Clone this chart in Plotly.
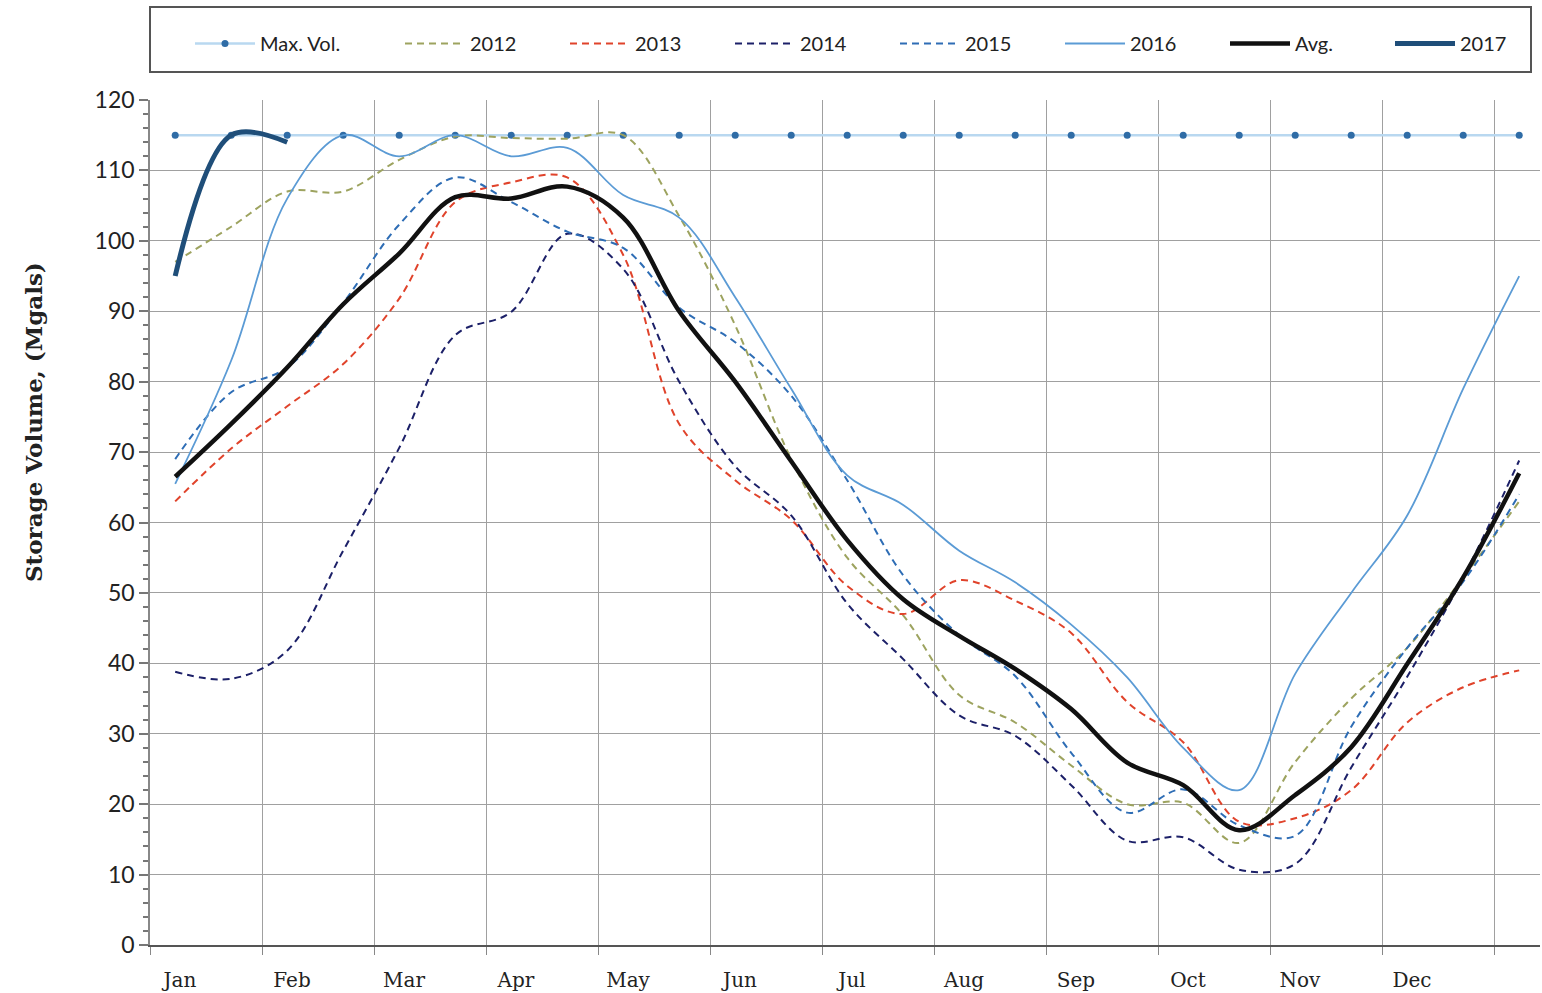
import plotly.graph_objects as go

# ---- data (semi-monthly readings, index 0 = Jan 1 ... 24 = end of Dec) ----
months = ["Jan", "Feb", "Mar", "Apr", "May", "Jun", "Jul", "Aug", "Sep", "Oct", "Nov", "Dec", ""]
n_points = 25
x_idx = list(range(n_points))

max_vol = [115] * n_points
y2012 = [97, 102, 107, 107, 111.5, 114.8, 114.6, 114.5, 115, 103.5, 88, 69, 55, 46.8, 35.5, 31.6, 25.5, 20, 20.2, 14.5, 26, 35, 42.2, 52.2, 63]
y2013 = [63, 70.5, 76.5, 82.5, 91.8, 105.5, 108.3, 109, 98, 74, 66, 60.4, 51, 47, 51.8, 48.9, 44.3, 34.5, 28.8, 17.5, 18, 22, 31.6, 36.6, 39]
y2014 = [38.8, 37.8, 41.8, 56, 70.6, 86.6, 89.9, 101, 96, 80, 68, 61, 48.5, 40.6, 32.6, 29.7, 22.7, 14.8, 15.3, 10.7, 11.5, 25.2, 38.1, 52.2, 68.8]
y2015 = [69, 78.5, 82, 91.2, 102.3, 109, 105.5, 101.3, 99, 90.5, 85.6, 78, 66, 52.5, 44, 38.2, 27.3, 18.8, 22.1, 17, 15.5, 31, 42.2, 51.6, 64]
y2016 = [65.5, 83, 106, 115, 112, 115, 112, 113.2, 106.5, 103.3, 92, 79, 66.7, 62.5, 56, 51.5, 45.5, 38, 28, 22, 38.5, 50, 61, 79, 95]
y_avg = [66.5, 74, 82, 91, 98.2, 106.2, 106, 107.7, 103.3, 90, 80, 68.7, 57.5, 49.1, 43.9, 39.2, 33.5, 25.9, 22.7, 16.3, 21.3, 28.1, 39.9, 52.2, 67]
y2017 = [95, 115, 114]

# month gridlines sit a little before each month's first reading
grid_offset = -0.45
grid_positions = [grid_offset + 2 * k for k in range(len(months))]

fig = go.Figure()

DASH = "7px,5px"

fig.add_trace(go.Scatter(
    x=x_idx, y=max_vol, name="Max. Vol.", mode="lines+markers",
    line=dict(color="#b9d8f0", width=2.5),
    marker=dict(color="#2f6ca6", size=7),
    legend="legend"))

series = [
    ("2012", y2012, "#9da35f", DASH, 2.0),
    ("2013", y2013, "#e0432b", DASH, 2.0),
    ("2014", y2014, "#1c2068", DASH, 2.0),
    ("2015", y2015, "#2e6db5", DASH, 2.0),
    ("2016", y2016, "#5b9bd5", "solid", 1.8),
    ("Avg.", y_avg, "#111111", "solid", 4.5),
]
for name, ys, col, dash, w in series:
    fig.add_trace(go.Scatter(
        x=x_idx[:len(ys)], y=ys, name=name, mode="lines",
        line=dict(color=col, width=w, dash=dash, shape="spline", smoothing=1.0),
        legend="legend2"))

fig.add_trace(go.Scatter(
    x=x_idx[:len(y2017)], y=y2017, name="2017", mode="lines",
    line=dict(color="#1f4e79", width=5, shape="spline", smoothing=1.0),
    legend="legend2"))

W, H = 1542, 993
ml, mr, mt, mb = 150, 2, 100, 48
pw = W - ml - mr
ph = H - mt - mb
px_per_unit = 56.0
x0 = grid_offset
x1 = x0 + pw / px_per_unit

def px2paper_x(px):
    return (px - ml) / pw

def py2paper_y(py):
    return (H - mb - py) / ph

legend_font = dict(family="Lato, Open Sans, sans-serif", size=20, color="#222222")

fig.update_layout(
    width=W, height=H,
    margin=dict(l=ml, r=mr, t=mt, b=mb, autoexpand=False),
    paper_bgcolor="white", plot_bgcolor="white",
    showlegend=True,
    legend=dict(orientation="h", x=px2paper_x(190), xanchor="left",
                y=py2paper_y(24), yanchor="top", font=legend_font,
                bgcolor="rgba(0,0,0,0)", borderwidth=0, itemwidth=60),
    legend2=dict(orientation="h", x=px2paper_x(400), xanchor="left",
                 y=py2paper_y(24), yanchor="top", font=legend_font,
                 bgcolor="rgba(0,0,0,0)", borderwidth=0, itemwidth=60,
                 entrywidth=90, entrywidthmode="pixels"),
    shapes=[dict(type="rect", xref="paper", yref="paper",
                 x0=px2paper_x(150), x1=px2paper_x(1531),
                 y0=py2paper_y(72), y1=py2paper_y(7),
                 line=dict(color="#555555", width=2), fillcolor="rgba(0,0,0,0)",
                 layer="below")],
    annotations=[dict(text="<b>Storage Volume, (Mgals)</b>", textangle=-90,
                      xref="paper", yref="paper", x=px2paper_x(33), y=py2paper_y(422),
                      xanchor="center", yanchor="middle", showarrow=False,
                      font=dict(family="DejaVu Serif, serif", size=23, color="#222222"))],
)

fig.update_xaxes(
    range=[x0, x1],
    tickmode="array", tickvals=grid_positions, ticktext=months,
    ticklabelshift=30, ticklabelstandoff=8,
    showgrid=True, gridcolor="#a0a0a0", gridwidth=1.3,
    ticks="outside", ticklen=8, tickcolor="#888888", tickwidth=1.3,
    showline=True, linecolor="#555555", linewidth=2.2,
    zeroline=False,
    tickfont=dict(family="DejaVu Serif, serif", size=20, color="#222222"),
)
fig.update_yaxes(
    range=[0, 120], tickmode="linear", tick0=0, dtick=10,
    showgrid=True, gridcolor="#a0a0a0", gridwidth=1.3,
    ticks="outside", ticklen=9, tickcolor="#777777", tickwidth=1.5,
    minor=dict(dtick=2, ticks="outside", ticklen=5, tickcolor="#777777", tickwidth=1.5, showgrid=False),
    showline=True, linecolor="#888888", linewidth=1.5,
    zeroline=False,
    tickfont=dict(family="Lato, Open Sans, sans-serif", size=23, color="#222222"),
)

fig.write_html("out.html", config={"displayModeBar": False},
               post_script="document.body.style.margin='0';")
